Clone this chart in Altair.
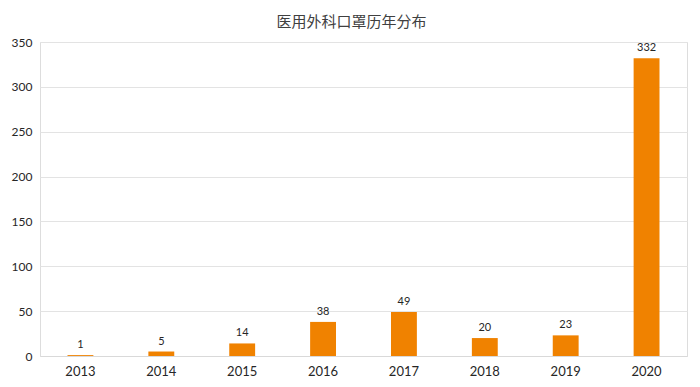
import altair as alt
import pandas as pd

years = ["2013", "2014", "2015", "2016", "2017", "2018", "2019", "2020"]
counts = [1, 5, 14, 38, 49, 20, 23, 332]
title_text = "医用外科口罩历年分布"

df = pd.DataFrame({"year": years, "count": counts})

base = alt.Chart(df).encode(
    x=alt.X("year:N", sort=years, title=None,
            scale=alt.Scale(paddingInner=0.68, paddingOuter=0.34),
            axis=alt.Axis(labelAngle=0, ticks=False, domainColor="#d9d9d9",
                          labelFont="Lato", labelFontSize=13, labelColor="#262626",
                          labelPadding=9, grid=False)),
    y=alt.Y("count:Q", title=None,
            scale=alt.Scale(domain=[0, 350]),
            axis=alt.Axis(values=list(range(0, 351, 50)), ticks=False, domain=False,
                          labelFont="Lato", labelFontSize=12, labelColor="#262626",
                          labelPadding=8, gridColor="#e3e3e3")),
)

bars = base.mark_bar(color="#F08200")
labels = base.mark_text(dy=-10, font="Lato", fontSize=11, color="#262626").encode(text="count:Q")

chart = (bars + labels).properties(
    width=647, height=314,
    padding={"left": 32, "top": 34, "right": 5, "bottom": 28},
    autosize=alt.AutoSizeParams(type="none"),
    title=alt.TitleParams(title_text, font="Noto Sans CJK SC", fontSize=15,
                          fontWeight="normal", color="#404040", anchor="middle",
                          dx=-12, offset=6),
).configure_view(stroke=None).configure(background="white")

chart.save("out.html", embed_options={"renderer": "svg", "actions": False})
